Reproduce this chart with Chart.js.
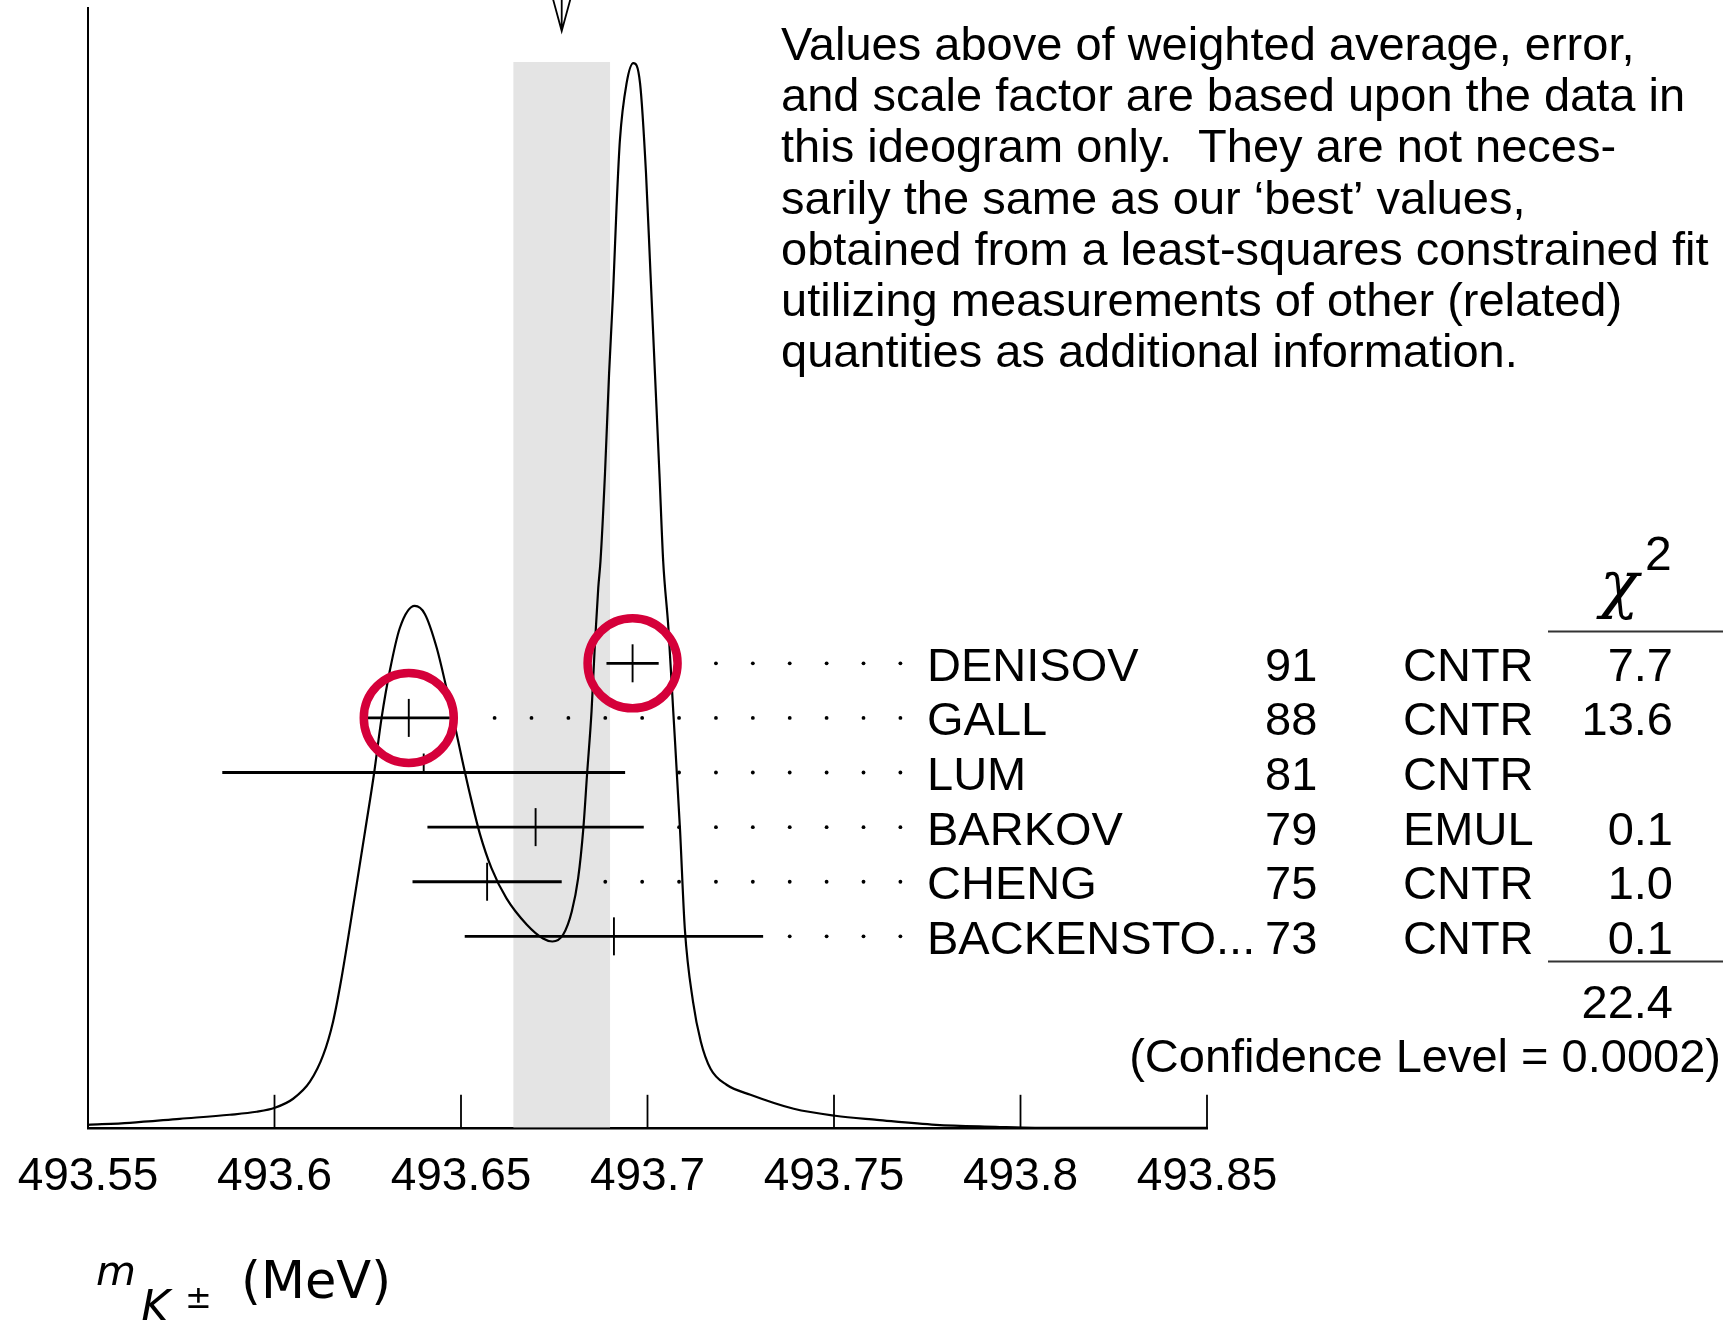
<!DOCTYPE html>
<html>
<head>
<meta charset="utf-8">
<script src="https://cdn.jsdelivr.net/npm/chart.js@4.4.1/dist/chart.umd.min.js"></script>
<style>
html, body { margin: 0; padding: 0; background: #fff; }
#wrap { position: relative; width: 1727px; height: 1320px; }
</style>
</head>
<body>
<div id="wrap"><canvas id="graph"></canvas></div>
<script>
// ideogram curve (x in MeV, height in arbitrary units)
var curveX = [493.5500, 493.5612, 493.5746, 493.5880, 493.5952, 493.6001, 493.6050, 493.6095, 493.6131, 493.6157,
  493.6178, 493.6216, 493.6244, 493.6267, 493.6287, 493.6309, 493.6336, 493.6376, 493.6403, 493.6435,
  493.6461, 493.6481, 493.6504, 493.6524, 493.6551, 493.6582, 493.6622, 493.6676, 493.6720, 493.6745,
  493.6774, 493.6797, 493.6814, 493.6828, 493.6838, 493.6850, 493.6859, 493.6868, 493.6874, 493.6886,
  493.6897, 493.6908, 493.6917, 493.6926, 493.6944, 493.6962, 493.6980, 493.6996, 493.7008, 493.7020,
  493.7032, 493.7042, 493.7056, 493.7069, 493.7087, 493.7100, 493.7122, 493.7143, 493.7169,
  493.7212, 493.7276, 493.7392, 493.7503, 493.7615, 493.7773, 493.7933, 493.8039, 493.8500];
var curveY = [3, 5, 9, 13, 16, 20, 29, 46, 73, 106,
  146, 233, 299, 354, 409, 456, 499, 521, 513, 479,
  439, 406, 366, 333, 293, 259, 229, 203, 189, 186,
  193, 216, 249, 299, 353, 416, 483, 539, 566, 653,
  753, 836, 919, 986, 1043, 1063, 1043, 953, 853, 753,
  653, 566, 499, 416, 299, 199, 126, 86, 59,
  43, 33, 19, 12, 8, 3, 1, 0, 0];

// measurements
var names = ["DENISOV", "GALL", "LUM", "BARKOV", "CHENG", "BACKENSTO..."];
var years = ["91", "88", "81", "79", "75", "73"];
var techniques = ["CNTR", "CNTR", "CNTR", "EMUL", "CNTR", "CNTR"];
var values = [493.696, 493.636, 493.640, 493.670, 493.657, 493.691];
var errors = [0.007, 0.011, 0.054, 0.029, 0.020, 0.040];
var chi2 = ["7.7", "13.6", "", "0.1", "1.0", "0.1"];
var chi2Total = "22.4";
var confidenceLevel = "0.0002";

// weighted average and its error (shaded band)
var average = 493.677;
var averageError = 0.013;
var bandHeight = 1064;

// axis ticks
var xTicks = [493.55, 493.6, 493.65, 493.7, 493.75, 493.8, 493.85];
var tickLabels = ["493.55", "493.6", "493.65", "493.7", "493.75", "493.8", "493.85"];

var highlighted = ["DENISOV", "GALL"];
var upperTickOnly = ["LUM"];

var note = [
  "Values above of weighted average, error,",
  "and scale factor are based upon the data in",
  "this ideogram only.  They are not neces-",
  "sarily the same as our \u2018best\u2019 values,",
  "obtained from a least-squares constrained fit",
  "utilizing measurements of other (related)",
  "quantities as additional information."
];

var FONT = '"Liberation Sans", Helvetica, Arial, sans-serif';

// leader dots sit on a fixed grid
var dotEnd = 493.7678, dotStep = 0.00989, dotGap = 0.0062;

const ideogram = {
  id: "ideogram",
  afterDatasetsDraw(chart) {
    const ctx = chart.ctx, xs = chart.scales.x, rs = chart.scales.yRow, area = chart.chartArea;
    ctx.save();
    ctx.strokeStyle = "#000";
    ctx.fillStyle = "#000";

    // ticks pointing into the plot
    ctx.lineWidth = 1.8;
    xTicks.forEach(v => {
      const px = xs.getPixelForValue(v);
      ctx.beginPath(); ctx.moveTo(px, area.bottom); ctx.lineTo(px, area.bottom - 33); ctx.stroke();
    });

    // arrow at the weighted average
    const ax = xs.getPixelForValue(average);
    ctx.lineWidth = 1.8;
    ctx.beginPath();
    ctx.moveTo(ax - 9, -2); ctx.lineTo(ax, 31); ctx.lineTo(ax + 9, -2);
    ctx.moveTo(ax, -2); ctx.lineTo(ax, 31);
    ctx.stroke();

    // error bars, leader dots and table rows
    names.forEach((name, i) => {
      const py = rs.getPixelForValue(i);
      const lo = xs.getPixelForValue(values[i] - errors[i]);
      const hi = xs.getPixelForValue(values[i] + errors[i]);
      const c = xs.getPixelForValue(values[i]);
      ctx.lineWidth = 2.8;
      ctx.beginPath(); ctx.moveTo(lo, py); ctx.lineTo(hi, py); ctx.stroke();
      ctx.lineWidth = 1.9;
      ctx.beginPath();
      ctx.moveTo(c, py - 19);
      ctx.lineTo(c, upperTickOnly.includes(name) ? py : py + 19);
      ctx.stroke();

      for (let k = 0; ; k++) {
        const dv = dotEnd - k * dotStep;
        if (dv <= values[i] + errors[i] + dotGap) break;
        const dx = xs.getPixelForValue(dv);
        ctx.beginPath(); ctx.arc(dx, py, 1.9, 0, Math.PI * 2); ctx.fill();
      }

      const base = py + 17.5;
      ctx.font = "47px " + FONT;
      ctx.textAlign = "left";
      ctx.fillText(name, 927, base);
      ctx.fillText(years[i], 1265, base);
      ctx.fillText(techniques[i], 1403, base);
      ctx.textAlign = "right";
      ctx.fillText(chi2[i], 1673, base);
    });

    // chi-square header, rules, total
    ctx.textAlign = "left";
    ctx.font = "italic 64px \"DejaVu Serif\"";
    ctx.fillText("\u03c7", 1600, 606);
    ctx.font = "48px " + FONT;
    ctx.fillText("2", 1645, 570);
    ctx.lineWidth = 2;
    ctx.strokeStyle = "#333";
    ctx.beginPath(); ctx.moveTo(1548, 631.5); ctx.lineTo(1723, 631.5); ctx.stroke();
    ctx.beginPath(); ctx.moveTo(1548, 961.5); ctx.lineTo(1723, 961.5); ctx.stroke();
    ctx.font = "47px " + FONT;
    ctx.textAlign = "right";
    ctx.fillText(chi2Total, 1673, 1017.5);
    ctx.fillText("(Confidence Level = " + confidenceLevel + ")", 1721, 1072);

    // explanatory note
    ctx.textAlign = "left";
    ctx.font = "47px " + FONT;
    note.forEach((line, k) => ctx.fillText(line, 781, 60 + k * 51.2));

    // axis title
    ctx.font = "italic 41px \"DejaVu Sans\"";
    ctx.fillText("m", 96, 1285);
    ctx.font = "italic 44px \"DejaVu Sans\"";
    ctx.fillText("K", 141, 1322);
    ctx.font = "32px \"DejaVu Sans\"";
    ctx.fillText("\u00b1", 185, 1308);
    ctx.font = "51px \"DejaVu Sans\"";
    ctx.fillText("(MeV)", 241, 1298);

    // red highlight rings
    ctx.strokeStyle = "#d5003a";
    ctx.lineWidth = 8.5;
    names.forEach((name, i) => {
      if (!highlighted.includes(name)) return;
      const cx = xs.getPixelForValue(values[i]);
      const cy = rs.getPixelForValue(i);
      ctx.beginPath(); ctx.arc(cx, cy, 45, 0, Math.PI * 2); ctx.stroke();
    });
    ctx.restore();
  }
};

const graph = new Chart("graph", {
  type: "line",
  data: {
    datasets: [{
      label: "curve",
      data: curveX.map((xi, i) => ({ x: xi, y: curveY[i] })),
      borderColor: "#000",
      borderWidth: 2.2,
      pointRadius: 0,
      cubicInterpolationMode: "monotone",
      fill: false,
      order: 1
    }, {
      label: "band",
      data: [{ x: average - averageError, y: bandHeight }, { x: average + averageError, y: bandHeight }],
      borderWidth: 0,
      borderColor: "rgba(0,0,0,0)",
      backgroundColor: "#e4e4e4",
      pointRadius: 0,
      fill: "origin",
      order: 2
    }]
  },
  options: {
    responsive: true,
    maintainAspectRatio: false,
    animation: false,
    events: [],
    layout: { padding: { left: 80, right: 520, top: 8, bottom: 101 } },
    scales: {
      x: {
        type: "linear",
        min: 493.55,
        max: 493.85,
        afterBuildTicks: scale => { scale.ticks = xTicks.map(v => ({ value: v })); },
        ticks: {
          autoSkip: false,
          maxRotation: 0,
          padding: 14,
          color: "#000",
          font: { family: FONT, size: 46 },
          callback: (v) => tickLabels[xTicks.findIndex(t => Math.abs(t - v) < 1e-6)]
        },
        grid: { display: false },
        border: { display: true, color: "#000", width: 2.5 }
      },
      y: {
        type: "linear",
        min: 0,
        max: 1118,
        ticks: { display: false },
        grid: { display: false },
        border: { display: true, color: "#000", width: 2 }
      },
      yRow: {
        type: "linear",
        axis: "y",
        position: "left",
        display: false,
        reverse: true,
        min: -12.0,
        max: 8.506
      }
    },
    plugins: { legend: { display: false }, tooltip: { enabled: false } }
  },
  plugins: [ideogram]
});
</script>
</body>
</html>
